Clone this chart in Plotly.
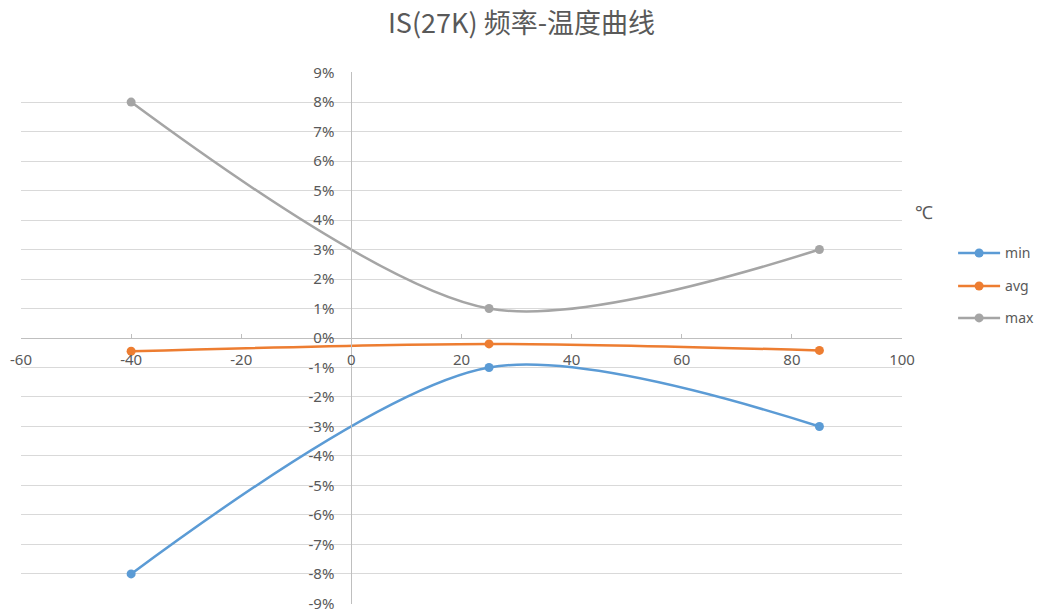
import plotly.graph_objects as go

temps = [-40, 25, 85]
min_vals = [-8.0, -1.0, -3.0]
avg_vals = [-0.45, -0.2, -0.42]
max_vals = [8.0, 1.0, 3.0]

series_names = ["min", "avg", "max"]
series_colors = ["#5B9BD5", "#ED7D31", "#A5A5A5"]

x_ticks = [-60, -40, -20, 0, 20, 40, 60, 80, 100]
y_ticks = list(range(-9, 10))
y_labels = [f"{v}%" for v in y_ticks]
x_labels = [str(v) for v in x_ticks]

title_text = "IS(27K) 频率-温度曲线"
unit_text = "℃"

legend_ids = ["legend", "legend2", "legend3"]
legend_y = [0.659, 0.597, 0.537]

fig = go.Figure()
for name, vals, col, lid in zip(series_names, [min_vals, avg_vals, max_vals], series_colors, legend_ids):
    fig.add_trace(go.Scatter(
        x=temps, y=vals, name=name, mode="lines+markers", legend=lid,
        line=dict(color=col, width=2.5, shape="spline", smoothing=0.85),
        marker=dict(color=col, size=9, symbol="circle"),
    ))

font_fam = "Noto Sans, Noto Sans CJK SC, sans-serif"
leg_common = dict(x=1.058, xanchor="left", yanchor="middle", itemwidth=42,
                  font=dict(size=14, color="#595959"), bgcolor="rgba(0,0,0,0)")
fig.update_layout(
    width=1043, height=612,
    margin=dict(l=21, r=141, t=72, b=8, autoexpand=False),
    paper_bgcolor="white", plot_bgcolor="white",
    title=dict(text=title_text, x=0.5, xanchor="center", y=0.962, yanchor="middle",
               font=dict(family="Noto Sans CJK SC, sans-serif", size=27, color="#595959")),
    font=dict(family=font_fam, size=13, color="#595959"),
    showlegend=True,
    legend=dict(y=legend_y[0], **leg_common),
    legend2=dict(y=legend_y[1], **leg_common),
    legend3=dict(y=legend_y[2], **leg_common),
    xaxis=dict(range=[-60, 100], tickmode="array", tickvals=x_ticks, ticktext=x_labels,
               showgrid=False, zeroline=False, showline=True, linecolor="#BFBFBF", linewidth=1,
               anchor="free", position=0.5, ticks="inside", ticklen=4, tickcolor="#BFBFBF",
               ticklabelstandoff=8, ticklabeloverflow="allow",
               tickfont=dict(size=15, color="#595959"), automargin=False, fixedrange=True),
    yaxis=dict(range=[-9.02, 9.02], tickmode="array", tickvals=y_ticks, ticktext=y_labels,
               showgrid=True, gridcolor="#D9D9D9", gridwidth=1, zeroline=False,
               showline=True, linecolor="#BFBFBF", linewidth=1,
               anchor="free", position=0.375, ticks="", ticklabelstandoff=14,
               ticklabeloverflow="allow",
               tickfont=dict(size=15, color="#595959"), automargin=False, fixedrange=True),
    annotations=[dict(text=unit_text, xref="paper", yref="paper", x=1.013, y=0.737,
                      xanchor="left", yanchor="middle", showarrow=False,
                      font=dict(size=18, color="#595959"))],
)
fig.write_html("out.html", config={"displayModeBar": False},
               post_script="document.body.style.margin='0';")
